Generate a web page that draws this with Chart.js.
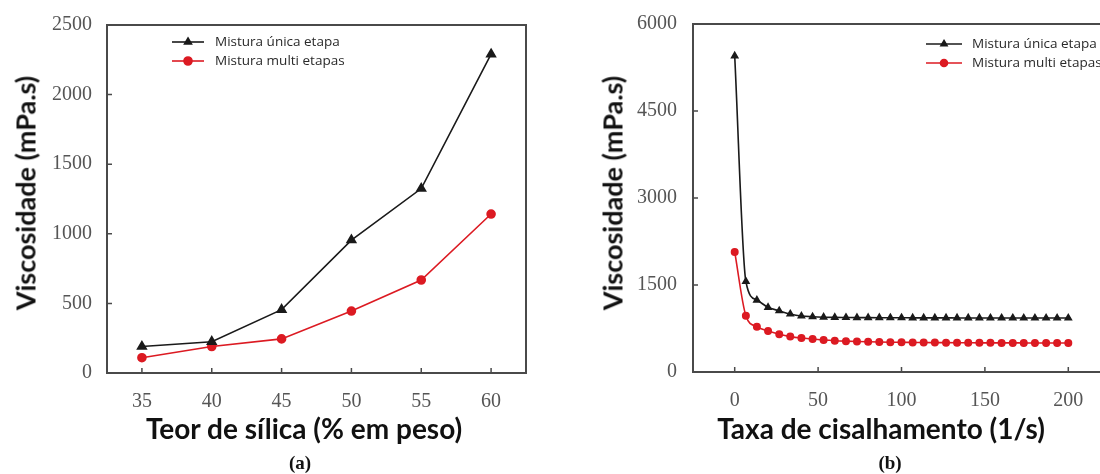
<!DOCTYPE html>
<html>
<head>
<meta charset="utf-8">
<script src="https://cdn.jsdelivr.net/npm/chart.js@4.4.1/dist/chart.umd.min.js"></script>
<style>
  html, body { margin: 0; padding: 0; background: #fff; }
  body { width: 1100px; height: 474px; position: relative; overflow: hidden; }
  .box { position: absolute; top: 0; height: 474px; }
  #boxA { left: 0; width: 560px; }
  #boxB { left: 560px; width: 570px; }
  .title { position: absolute; font: bold 28px Lato, sans-serif; color: #111; white-space: nowrap; transform: translate(-50%, -50%); }
  .ytitle { font-size: 27px; transform: translate(-50%, -50%) rotate(-90deg); }
  .cap { position: absolute; font: bold 19px "Liberation Serif", serif; color: #111; transform: translate(-50%, -50%); }
</style>
</head>
<body>
<div class="box" id="boxA"><canvas id="chartA" width="560" height="474"></canvas></div>
<div class="box" id="boxB"><canvas id="chartB" width="570" height="474"></canvas></div>

<div class="title ytitle" style="left:25px; top:193px;">Viscosidade (mPa.s)</div>
<div class="title" style="left:304px; top:428px;">Teor de sílica (% em peso)</div>
<div class="cap" style="left:300px; top:463px;">(a)</div>

<div class="title ytitle" style="left:612px; top:193px;">Viscosidade (mPa.s)</div>
<div class="title" style="left:881px; top:428px;">Taxa de cisalhamento (1/s)</div>
<div class="cap" style="left:890px; top:463px;">(b)</div>

<script>
// (a) viscosity vs silica content
const silica = [35, 40, 45, 50, 55, 60];
const unicaA = [190, 225, 455, 955, 1325, 2290];
const multiA = [110, 190, 245, 445, 668, 1142];
const ticksXA = [35, 40, 45, 50, 55, 60];
const ticksYA = [0, 500, 1000, 1500, 2000, 2500];

// (b) viscosity vs shear rate
const shear = [0, 6.7, 13.3, 20, 26.7, 33.3, 40, 46.7, 53.3, 60, 66.7, 73.3, 80, 86.7, 93.3, 100,
  106.7, 113.3, 120, 126.7, 133.3, 140, 146.7, 153.3, 160, 166.7, 173.3, 180, 186.7, 193.3, 200];
const unicaB = [5450, 1560, 1240, 1115, 1055, 1000, 965, 952, 945, 942, 940, 938, 937, 936, 935, 935,
  934, 934, 933, 933, 932, 932, 932, 931, 931, 931, 930, 930, 930, 930, 930];
const multiB = [2070, 970, 780, 705, 650, 610, 585, 568, 552, 540, 532, 526, 521, 517, 514, 512,
  510, 508, 507, 506, 505, 504, 503, 503, 502, 502, 501, 501, 500, 500, 500];
const ticksXB = [0, 50, 100, 150, 200];
const ticksYB = [0, 1500, 3000, 4500, 6000];

const seriesNames = ['Mistura única etapa', 'Mistura multi etapas'];
const BLACK = '#1a1a1a';
const RED = '#dc1a22';
const AXIS = '#4a4a4a';

// box around the plot area, with short tick marks pointing inwards
const frame = {
  id: 'frame',
  beforeDatasetsDraw(chart) {
    const { ctx, chartArea: a, scales } = chart;
    ctx.save();
    ctx.strokeStyle = AXIS;
    ctx.lineWidth = 2;
    ctx.strokeRect(a.left, a.top, a.right - a.left, a.bottom - a.top);
    ctx.lineWidth = 1.5;
    ctx.beginPath();
    scales.x.ticks.forEach(t => {
      const px = scales.x.getPixelForValue(t.value);
      ctx.moveTo(px, a.bottom);
      ctx.lineTo(px, a.bottom - 5);
    });
    scales.y.ticks.forEach(t => {
      const py = scales.y.getPixelForValue(t.value);
      ctx.moveTo(a.left, py);
      ctx.lineTo(a.left + 5, py);
    });
    ctx.stroke();
    ctx.restore();
  }
};

// legend drawn inside the plot: short line with the marker on it, then the label
const insideLegend = {
  id: 'insideLegend',
  afterDatasetsDraw(chart, args, o) {
    const { ctx, chartArea: a } = chart;
    const x0 = a.left + o.dx;
    ctx.save();
    ctx.font = o.font;
    ctx.textBaseline = 'middle';
    chart.data.datasets.forEach((ds, i) => {
      const y = a.top + o.dy + i * o.rowGap;
      ctx.strokeStyle = ds.borderColor;
      ctx.lineWidth = 1.6;
      ctx.beginPath();
      ctx.moveTo(x0, y);
      ctx.lineTo(x0 + o.lineLen, y);
      ctx.stroke();
      ctx.fillStyle = ds.borderColor;
      Chart.helpers.drawPoint(ctx, { pointStyle: ds.pointStyle, radius: o.radius, borderWidth: 1 }, x0 + o.lineLen / 2, y);
      ctx.fillStyle = '#2a2a2a';
      ctx.fillText(ds.label, x0 + o.lineLen + o.gap, y);
    });
    ctx.restore();
  }
};

function series(label, xs, ys, color, style, r) {
  return {
    label: label,
    data: xs.map((x, i) => ({ x: x, y: ys[i] })),
    borderColor: color,
    backgroundColor: color,
    pointBackgroundColor: color,
    pointBorderColor: color,
    pointStyle: style,
    pointRadius: r,
    borderWidth: 1.6
  };
}

function axis(min, max, ticks, width, height, pad) {
  return {
    type: 'linear',
    min: min,
    max: max,
    afterBuildTicks: s => { s.ticks = ticks.map(v => ({ value: v })); },
    afterFit: s => {
      if (width) s.width = width;
      if (height) s.height = height;
    },
    grid: { display: false },
    border: { display: false },
    ticks: {
      padding: pad,
      color: '#555',
      font: { family: 'Liberation Serif', size: 20 },
      callback: v => String(v)
    }
  };
}

function makeChart(id, cfg) {
  return new Chart(document.getElementById(id), {
    type: 'line',
    data: { datasets: cfg.datasets },
    options: {
      responsive: false,
      animation: false,
      events: [],
      layout: { padding: cfg.padding },
      elements: { line: cfg.line },
      scales: { x: cfg.x, y: cfg.y },
      plugins: {
        legend: { display: false },
        tooltip: { enabled: false },
        insideLegend: cfg.legend
      }
    },
    plugins: [frame, insideLegend]
  });
}

makeChart('chartA', {
  datasets: [
    series(seriesNames[0], silica, unicaA, BLACK, 'triangle', 5),
    series(seriesNames[1], silica, multiA, RED, 'circle', 4)
  ],
  padding: { top: 25, right: 34, left: 0, bottom: 0 },
  line: { tension: 0 },
  x: axis(32.5, 62.5, ticksXA, 0, 101, 9),
  y: axis(0, 2500, ticksYA, 107, 0, 7),
  legend: { dx: 65, dy: 17, rowGap: 19, lineLen: 32, gap: 11, radius: 4, font: '13.5px "Open Sans"' }
});

makeChart('chartB', {
  datasets: [
    series(seriesNames[0], shear, unicaB, BLACK, 'triangle', 3.5),
    series(seriesNames[1], shear, multiB, RED, 'circle', 3.2)
  ],
  padding: { top: 24, right: 20, left: 0, bottom: 0 },
  line: { cubicInterpolationMode: 'monotone' },
  x: axis(-25, 225, ticksXB, 0, 102, 9),
  y: axis(0, 6000, ticksYB, 133, 0, 8),
  legend: { dx: 233, dy: 20, rowGap: 19, lineLen: 36, gap: 10, radius: 3.5, font: '13.5px "Open Sans"' }
});
</script>
</body>
</html>
